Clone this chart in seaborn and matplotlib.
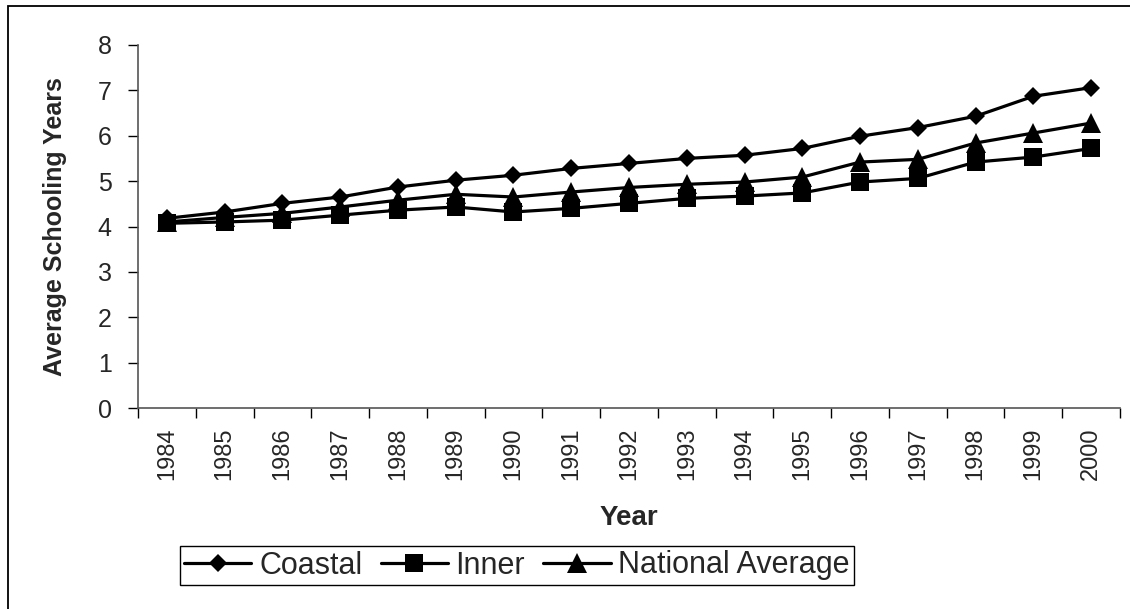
import matplotlib
matplotlib.use("Agg")
import matplotlib.pyplot as plt
import matplotlib.patches as mpatches
from matplotlib.ticker import FixedLocator, NullFormatter
import seaborn as sns
import pandas as pd

years = [str(y) for y in range(1984, 2001)]
coastal = [4.18, 4.32, 4.51, 4.65, 4.87, 5.02, 5.13, 5.28, 5.39, 5.50, 5.57, 5.72, 5.99, 6.18, 6.43, 6.87, 7.06]
inner = [4.07, 4.10, 4.14, 4.25, 4.36, 4.43, 4.32, 4.40, 4.51, 4.62, 4.67, 4.74, 4.98, 5.06, 5.42, 5.53, 5.72]
national = [4.10, 4.20, 4.29, 4.43, 4.58, 4.71, 4.65, 4.76, 4.86, 4.93, 4.98, 5.09, 5.42, 5.48, 5.84, 6.06, 6.28]
series_names = ["Coastal", "Inner", "National Average"]
yticks = [0, 1, 2, 3, 4, 5, 6, 7, 8]

rows = []
for name, vals in zip(series_names, [coastal, inner, national]):
    for i, (yr, v) in enumerate(zip(years, vals)):
        rows.append({"pos": i, "Year": yr, "value": v, "series": name})
df = pd.DataFrame(rows)

sns.set_theme(style="white")
plt.rcParams["font.family"] = ["Liberation Sans", "DejaVu Sans"]

fig = plt.figure(figsize=(11.30, 6.09), dpi=100)
ax = fig.add_axes([138/1130, 1-408/609, (1120-138)/1130, (408-45)/609])

markers = {"Coastal": "D", "Inner": "s", "National Average": "^"}
msizes = {"Coastal": 9.5, "Inner": 12.5, "National Average": 14}
sns.lineplot(data=df, x="pos", y="value", hue="series", style="series",
             markers=markers, dashes=False, palette=["black"]*3,
             linewidth=2.3, markersize=11, markeredgewidth=0,
             ax=ax, legend=False)
for line, name in zip(ax.get_lines(), series_names):
    line.set_markersize(msizes[name])

ax.set_xlim(-0.5, len(years) - 0.5)
ax.set_ylim(0, 8)
ax.set_yticks(yticks)
ax.set_yticklabels([str(t) for t in yticks], fontsize=18)
ax.set_xticks(range(len(years)))
ax.set_xticklabels(years, rotation=90, fontsize=17)
ax.xaxis.set_minor_locator(FixedLocator([i - 0.5 for i in range(len(years) + 1)]))
ax.xaxis.set_minor_formatter(NullFormatter())
ax.tick_params(axis="x", which="major", length=0, pad=14)
ax.tick_params(axis="x", which="minor", length=7, width=1, color="black", direction="out", bottom=True)
ax.tick_params(axis="y", which="major", length=7, width=1, color="black", direction="out", left=True, pad=12)

for s in ["top", "right"]:
    ax.spines[s].set_visible(False)
for s in ["left", "bottom"]:
    ax.spines[s].set_color("#555555")
    ax.spines[s].set_linewidth(1.2)

ax.set_xlabel("Year", fontsize=20, fontweight="bold", labelpad=18)
ax.set_ylabel("Average Schooling Years", fontsize=18, fontweight="bold", labelpad=22)

handles = [plt.Line2D([], [], color="black", linewidth=2.3, marker=markers[n],
                      markersize=msizes[n], markeredgewidth=0) for n in series_names]
leg = fig.legend(handles, series_names, loc="center", bbox_to_anchor=(517/1130, 1-565.5/609),
                 ncol=3, fontsize=22, frameon=True, fancybox=False, edgecolor="black",
                 framealpha=1, handlelength=2.2, handletextpad=0.25, columnspacing=0.6,
                 borderpad=0.15, borderaxespad=0)
leg.get_frame().set_linewidth(1.0)

fig.patches.append(mpatches.Rectangle((8/1130, -0.1), 1.2, 1-6/609 + 0.1,
                                      transform=fig.transFigure, fill=False,
                                      edgecolor="black", linewidth=1.3))

fig.savefig("out.png", dpi=100)
